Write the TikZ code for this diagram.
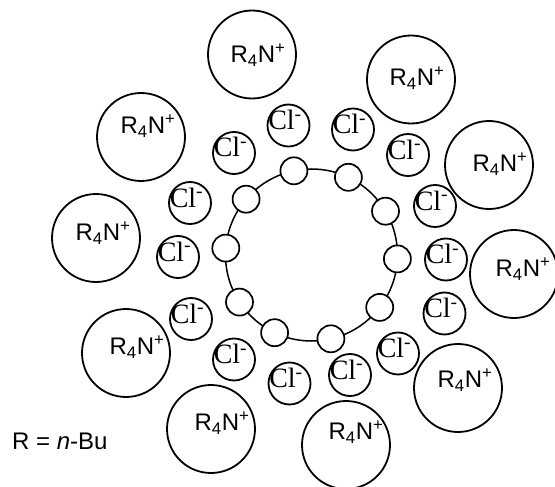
\documentclass[tikz,border=0pt]{standalone}
\usepackage{fontspec}
\setmainfont{Liberation Sans}
\newfontfamily\clfont{Liberation Serif}
\begin{document}
\begin{tikzpicture}[x=1pt,y=-1pt,
  big/.style={circle, draw, line width=1.8pt, minimum size=88pt, inner sep=0pt},
  clc/.style={circle, draw, line width=1.8pt, minimum size=42pt, inner sep=0pt, fill=white},
  bead/.style={circle, draw, line width=1.7pt, minimum size=27pt, inner sep=0pt, fill=white},
  ringc/.style={circle, draw, line width=1.5pt, minimum size=172pt, inner sep=0pt},
  rtext/.style={font=\fontsize{24}{24}\selectfont, inner sep=0pt},
  cltext/.style={font=\clfont\fontsize{28}{28}\selectfont, inner sep=0pt, anchor=base}]
\useasboundingbox (0,0) rectangle (555,487);
% ring and beads
\node[ringc] (ring) at (311.5,255) {};
\node[bead] (s1) at (293.9,170.8) {};
\node[bead] (s2) at (348.4,177.3) {};
\node[bead] (s3) at (385.5,211.2) {};
\node[bead] (s4) at (397.4,258.9) {};
\node[bead] (s5) at (379.7,307.4) {};
\node[bead] (s6) at (330.9,338.8) {};
\node[bead] (s7) at (274.6,332.7) {};
\node[bead] (s8) at (239.5,302.1) {};
\node[bead] (s9) at (225.8,248.1) {};
\node[bead] (s10) at (246.1,199.2) {};
% chloride ions
\foreach \n/\x/\y in {1/288.5/125.5, 2/353/129.5, 3/408/155, 4/435/206, 5/446/259.5,
  6/444.5/313.5, 7/398/353.5, 8/350/375, 9/289.5/383.5, 10/234/359.5,
  11/191/319, 12/178/257, 13/190/203, 14/234/153}{
  \node[clc] (c\n) at (\x,\y) {};
  \node[cltext] (ct\n) at (\x-3.5,\y+4) {Cl\textsuperscript{-}};
}
% ammonium cations
\foreach \n/\x/\y/\tx/\ty in {1/252/54.5/258/55, 2/141/137/148/126, 3/96/238/103/233,
  4/126/353/137/347, 5/211/429/222/423, 6/346/445/356/432, 7/458/388/465/380,
  8/514/274/523/269, 9/489/165/500/164, 10/411/79.5/417/78}{
  \node[big] (r\n) at (\x,\y) {};
  \node[rtext] (rt\n) at (\tx,\ty) {R\textsubscript{4}N\textsuperscript{+}};
}
\node[rtext, anchor=west] (legend) at (12,441) {R = \textit{n}-Bu};
\end{tikzpicture}
\end{document}
